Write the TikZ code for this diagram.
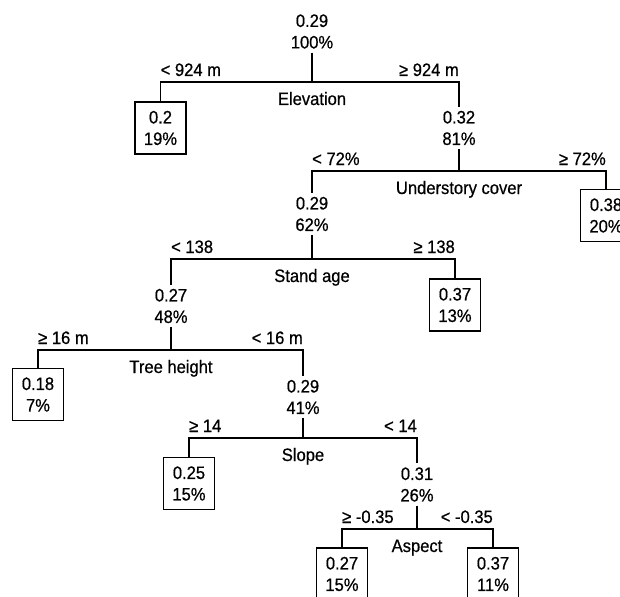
\documentclass[tikz,border=0pt]{standalone}
\usepackage{fontspec}
\setmainfont[FakeStretch=0.92,FakeBold=0.6]{Liberation Sans}
\begin{document}
\begin{tikzpicture}[x=1pt,y=-1pt,
  every node/.style={font=\fontsize{18}{21.5}\selectfont},
  inner/.style={align=center,inner xsep=2pt,inner ysep=3.8pt},
  leaf/.style={draw,line width=1.2pt,align=center,minimum width=51pt,minimum height=52pt,inner sep=0pt},
  lbl/.style={inner sep=0pt},
  edge/.style={line width=1.8pt}]
\useasboundingbox (0,0) rectangle (620,596);
\clip (0,0) rectangle (620,596);
% internal nodes
\node[inner] (root) at (312,31.5) {0.29\\100\%};
\node[inner] (n32) at (459,128) {0.32\\81\%};
\node[inner] (n62) at (312,214) {0.29\\62\%};
\node[inner] (n48) at (171,306) {0.27\\48\%};
\node[inner] (n41) at (303,397) {0.29\\41\%};
\node[inner] (n26) at (417,484.5) {0.31\\26\%};
% leaves
\node[leaf] (L1) at (160.5,128) {0.2\\19\%};
\node[leaf] (L2) at (606,215.5) {0.38\\20\%};
\node[leaf] (L3) at (455,305) {0.37\\13\%};
\node[leaf] (L4) at (38,394.5) {0.18\\7\%};
\node[leaf] (L5) at (189,483.5) {0.25\\15\%};
\node[leaf] (L6) at (342,574) {0.27\\15\%};
\node[leaf] (L7) at (493,574) {0.37\\11\%};
% junctions
\coordinate (s1) at (root.south |- 0,82);
\coordinate (s2) at (n32.south |- 0,171);
\coordinate (s3) at (n62.south |- 0,259);
\coordinate (s4) at (n48.south |- 0,350);
\coordinate (s5) at (n41.south |- 0,438);
\coordinate (s6) at (n26.south |- 0,529);
% connectors
\draw[edge] (root.south) -- (s1);
\draw[edge] (L1.north) |- (s1) -| (n32.north);
\draw[edge] (n32.south) -- (s2);
\draw[edge] (n62.north) |- (s2) -| (L2.north);
\draw[edge] (n62.south) -- (s3);
\draw[edge] (n48.north) |- (s3) -| (L3.north);
\draw[edge] (n48.south) -- (s4);
\draw[edge] (L4.north) |- (s4) -| (n41.north);
\draw[edge] (n41.south) -- (s5);
\draw[edge] (L5.north) |- (s5) -| (n26.north);
\draw[edge] (n26.south) -- (s6);
\draw[edge] (L6.north) |- (s6) -| (L7.north);
% split labels
\node[lbl,anchor=base west] (a1) at ([yshift=6pt]L1.north |- s1) {< 924 m};
\node[lbl,anchor=base east] (b1) at ([yshift=6pt]n32.north |- s1) {≥ 924 m};
\node[lbl,anchor=base] (v1) at ([yshift=-23pt]s1) {Elevation};
\node[lbl,anchor=base west] (a2) at ([yshift=6pt]n62.north |- s2) {< 72\%};
\node[lbl,anchor=base east] (b2) at ([yshift=6pt]L2.north |- s2) {≥ 72\%};
\node[lbl,anchor=base] (v2) at ([yshift=-23pt]s2) {Understory cover};
\node[lbl,anchor=base west] (a3) at ([yshift=6pt]n48.north |- s3) {< 138};
\node[lbl,anchor=base east] (b3) at ([yshift=6pt]L3.north |- s3) {≥ 138};
\node[lbl,anchor=base] (v3) at ([yshift=-23pt]s3) {Stand age};
\node[lbl,anchor=base west] (a4) at ([yshift=6pt]L4.north |- s4) {≥ 16 m};
\node[lbl,anchor=base east] (b4) at ([yshift=6pt]n41.north |- s4) {< 16 m};
\node[lbl,anchor=base] (v4) at ([yshift=-23pt]s4) {Tree height};
\node[lbl,anchor=base west] (a5) at ([yshift=6pt]L5.north |- s5) {≥ 14};
\node[lbl,anchor=base east] (b5) at ([yshift=6pt]n26.north |- s5) {< 14};
\node[lbl,anchor=base] (v5) at ([yshift=-23pt]s5) {Slope};
\node[lbl,anchor=base west] (a6) at ([yshift=6pt]L6.north |- s6) {≥ -0.35};
\node[lbl,anchor=base east] (b6) at ([yshift=6pt]L7.north |- s6) {< -0.35};
\node[lbl,anchor=base] (v6) at ([yshift=-23pt]s6) {Aspect};
\end{tikzpicture}
\end{document}
